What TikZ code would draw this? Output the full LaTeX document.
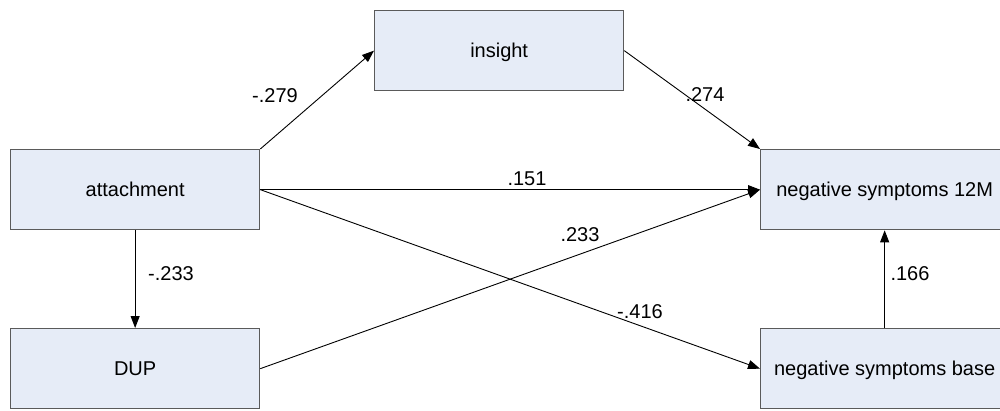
\documentclass[tikz,border=0pt]{standalone}
\usepackage{fontspec}
\setmainfont{Liberation Sans}
\usetikzlibrary{arrows.meta}
\definecolor{boxfill}{RGB}{230,236,247}
\definecolor{boxline}{RGB}{90,90,90}
\begin{document}
\begin{tikzpicture}[x=1pt,y=-1pt,
  font=\fontsize{20}{24}\selectfont,
  varbox/.style={draw=boxline,fill=boxfill,line width=1.3pt,rectangle,
    minimum width=249pt,minimum height=80pt,inner sep=0pt,
    text height=14pt,text depth=0pt,anchor=north west},
  conn/.style={-{Triangle[length=12pt,width=9pt]},line width=0.9pt,black},
  coef/.style={inner sep=0pt,text height=14pt,text depth=0pt}]
\useasboundingbox (0,0) rectangle (1000,410);
\fill[white] (0,0) rectangle (1000,410);
\node[varbox] (att) at (10,149) {attachment};
\node[varbox] (ins) at (374,10) {insight};
\node[varbox,minimum width=248pt] (n12) at (760,149) {negative symptoms 12M};
\node[varbox] (dup) at (10,328) {DUP};
\node[varbox,minimum width=248pt] (nb) at (760,328) {negative symptoms base};
\draw[conn] (att.north east) -- (ins.west);
\draw[conn] (ins.east) -- (n12.north west);
\draw[conn] (att.east) -- (n12.west);
\draw[conn] (att.east) -- (nb.west);
\draw[conn] (dup.east) -- (n12.west);
\draw[conn] (att.south) -- (dup.north);
\draw[conn] (nb.north) -- (n12.south);
\node[coef] (l1) at (275,95) {-.279};
\node[coef] (l2) at (705,94) {.274};
\node[coef] (l3) at (527,178) {.151};
\node[coef] (l4) at (580,234) {.233};
\node[coef] (l5) at (171,273) {-.233};
\node[coef] (l6) at (640,311) {-.416};
\node[coef] (l7) at (910,273) {.166};
\end{tikzpicture}
\end{document}
